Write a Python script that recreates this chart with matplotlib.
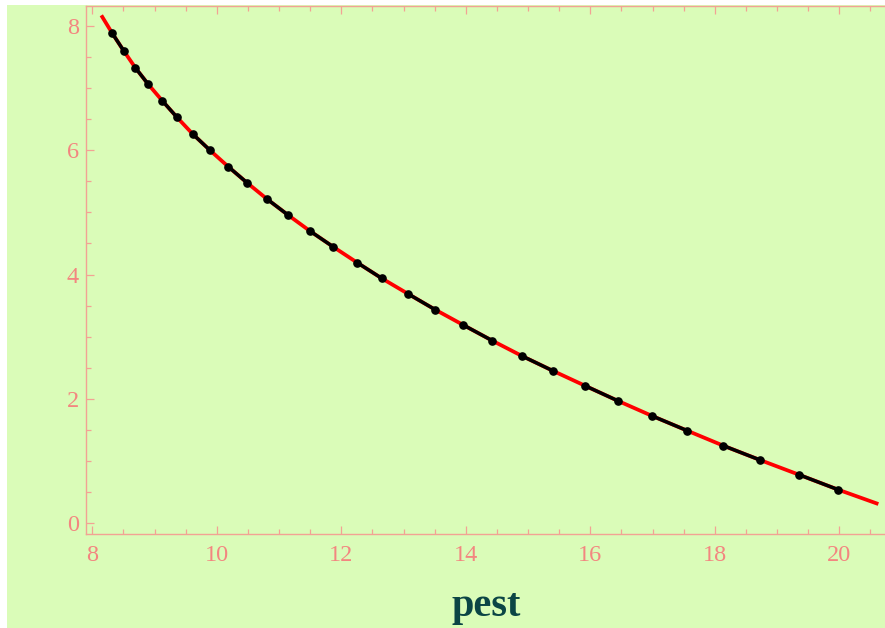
import matplotlib
matplotlib.use("Agg")
import matplotlib.pyplot as plt
from matplotlib.patches import Rectangle
from matplotlib.ticker import MultipleLocator

# points (pest on x, curve value on y)
pest_pts = [8.321, 8.504, 8.691, 8.895, 9.124, 9.361, 9.613, 9.891, 10.185, 10.485,
            10.806, 11.144, 11.497, 11.867, 12.257, 12.649, 13.076, 13.510, 13.960, 14.426,
            14.903, 15.396, 15.915, 16.450, 16.996, 17.558, 18.137, 18.726, 19.353, 19.984]
val_pts = [7.878, 7.598, 7.325, 7.063, 6.794, 6.527, 6.259, 5.997, 5.733, 5.476,
           5.214, 4.957, 4.699, 4.447, 4.190, 3.939, 3.687, 3.434, 3.188, 2.936,
           2.690, 2.453, 2.212, 1.966, 1.725, 1.489, 1.248, 1.018, 0.781, 0.540]

# red reference curve: same track, a bit longer at both ends
curve_x = [8.145] + pest_pts + [20.627]
curve_y = [8.167] + val_pts + [0.310]

xticks = [8, 10, 12, 14, 16, 18, 20]
yticks = [0, 2, 4, 6, 8]

bg = '#DAFCB8'
frame_col = '#F2A294'
label_col = '#F38680'

W, H = 885, 628
fig = plt.figure(figsize=(W / 100, H / 100), dpi=100)
fig.patch.set_facecolor('white')
# green panel with a thin white border on the left and top
fig.patches.append(Rectangle((7 / W, -0.01), 1.1, 1.01 - 5 / H, transform=fig.transFigure,
                             facecolor=bg, edgecolor='none', zorder=-10))

left, right, top, bottom = 86, 886, 6, 534
ax = fig.add_axes([left / W, 1 - bottom / H, (right - left) / W, (bottom - top) / H])
ax.set_facecolor(bg)

# red curve underneath, black pairs of points on top
ax.plot(curve_x, curve_y, color='red', lw=2.7, solid_capstyle='butt', zorder=2)
for i in range(0, len(pest_pts) - 1, 2):
    ax.plot(pest_pts[i:i + 2], val_pts[i:i + 2], color='black', lw=2.5,
            marker='o', ms=5.2, zorder=3)

ax.set_xlim(7.899, 20.75)
ax.set_ylim(-0.172, 8.317)

ax.xaxis.set_major_locator(MultipleLocator(2))
ax.xaxis.set_minor_locator(MultipleLocator(0.5))
ax.yaxis.set_major_locator(MultipleLocator(2))
ax.yaxis.set_minor_locator(MultipleLocator(0.5))
ax.set_xticks(xticks)
ax.set_yticks(yticks)

for s in ax.spines.values():
    s.set_color(frame_col)
    s.set_linewidth(1.0)
ax.spines['right'].set_visible(False)

ax.tick_params(which='both', direction='in', top=True, right=False,
               color=frame_col, width=0.9, labelcolor=label_col)
ax.tick_params(which='major', length=6)
ax.tick_params(which='minor', length=3.6)
ax.tick_params(axis='x', which='major', pad=8)
ax.tick_params(axis='y', which='major', pad=5)
for lab in ax.get_xticklabels() + ax.get_yticklabels():
    lab.set_fontfamily('Liberation Serif')
    lab.set_fontsize(17.5)

ax.set_xlabel('pest', fontfamily='Liberation Serif', fontweight='bold',
              fontsize=29, color='#0B4545', labelpad=16)

fig.savefig('out.png', dpi=100, facecolor=fig.get_facecolor())
plt.close(fig)
